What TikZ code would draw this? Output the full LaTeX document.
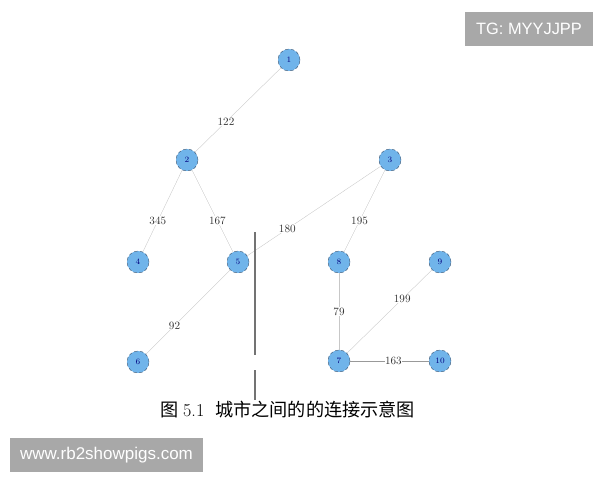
\documentclass[tikz,border=0pt]{standalone}
\usepackage{fontspec}
\newfontfamily\cjk{Noto Sans CJK SC}
\newfontfamily\wmfont{Liberation Sans}
\definecolor{cityblue}{HTML}{70B4EA}
\definecolor{cityedge}{HTML}{3E5A78}
\definecolor{wmgray}{HTML}{A8A8A8}
\tikzset{city/.style = {circle, draw=cityedge, densely dashed, fill=cityblue, minimum size=0.66cm, inner sep=0pt, font=\fontsize{7}{7}\selectfont, text=blue!50!black},
    road/.style = {draw=black!22, line width=0.3pt},
    dist/.style = {fill=white, inner sep=0.5pt, font=\fontsize{9.5}{9.5}\selectfont, text=black!80},
    wmark/.style = {fill=wmgray, text=white, font=\wmfont\fontsize{14}{14}\selectfont, inner sep=0pt, minimum height=1.02cm}}

\begin{document}
\begin{tikzpicture}[x=0.03cm,y=-0.03cm]
    \useasboundingbox(0,0)rectangle(600,480);
    \node[city](c1)at(289,60){1};
    \node[city](c2)at(187,160){2};
    \node[city](c3)at(390,160){3};
    \node[city](c4)at(138,262){4};
    \node[city](c5)at(238,262){5};
    \node[city](c8)at(339,262){8};
    \node[city](c9)at(440,262){9};
    \node[city](c6)at(138,362){6};
    \node[city](c7)at(339,361){7};
    \node[city](c10)at(440,361){10};
    \draw[road](c1)--(c2)node[dist, pos=0.64]{122};
    \draw[road](c2)--(c4)node[dist, pos=0.62]{345};
    \draw[road](c2)--(c5)node[dist, pos=0.62]{167};
    \draw[road](c3)--(c5)node[dist, pos=0.7]{180};
    \draw[road](c3)--(c8)node[dist, pos=0.62]{195};
    \draw[road](c5)--(c6)node[dist, pos=0.66]{92};
    \draw[road](c8)--(c7)node[dist, midway]{79};
    \draw[road](c9)--(c7)node[dist, pos=0.35]{199};
    \draw[draw=black!40, line width=0.5pt](c7)--(c10)node[dist, pos=0.55]{163};
    % divider
    \coordinate(d1)at(255,232);
    \coordinate(d2)at(255,355);
    \coordinate(d3)at(255,370);
    \coordinate(d4)at(255,400);
    \draw[black!55, line width=1pt](d1)--(d2);
    \draw[black!55, line width=1pt](d3)--(d4);
    \node(cap)at(288,410){\fontsize{15.5}{15.5}\selectfont\cjk 图\ \rmfamily 5.1\ \ \cjk 城市之间的的连接示意图};
    % watermarks
    \node[wmark, minimum width=3.84cm](tg)at(529,29){TG: MYYJJPP};
    \node[wmark, minimum width=5.79cm, font=\wmfont\fontsize{14.5}{14.5}\selectfont](www)at(106.5,455){www.rb2showpigs.com};
\end{tikzpicture}
\end{document}
